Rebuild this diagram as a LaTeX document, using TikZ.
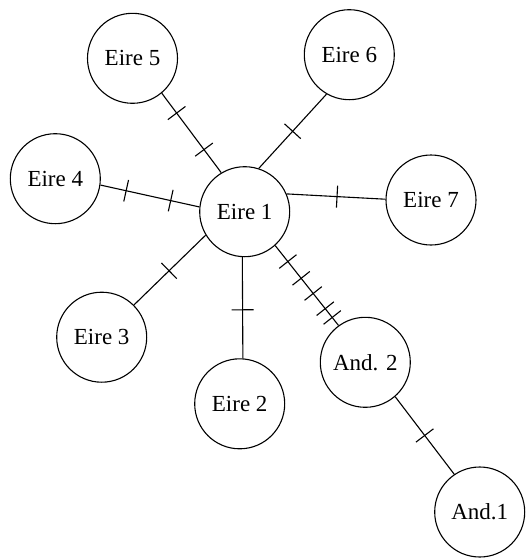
\documentclass[tikz,border=0pt]{standalone}
\usepackage{fontspec}
\setmainfont{Liberation Serif}
\begin{document}
\begin{tikzpicture}[x=1pt,y=-1pt,line width=1.1pt,
  hap/.style={draw,circle,minimum size=90pt,inner sep=0pt,font=\fontsize{23}{25}\selectfont},
  tickmark/.style={draw,sloped,rectangle,minimum width=0pt,minimum height=22pt,inner sep=0pt}]
\useasboundingbox (0,0) rectangle (527,558);
\node[hap] (e1) at (244.7,211.7) {Eire 1};
\node[hap] (e5) at (132.5,58.3) {Eire 5};
\node[hap] (e6) at (349.3,54.7) {Eire 6};
\node[hap] (e4) at (55.3,178.7) {Eire 4};
\node[hap] (e7) at (431,200) {Eire 7};
\node[hap] (e3) at (101.7,337.2) {Eire 3};
\node[hap] (e2) at (239.7,403.8) {Eire 2};
\node[hap] (a2) at (365.3,362.3) {And. 2};
\node[hap] (a1) at (479.7,512) {And.1};
\draw (e5.-50.7) -- node[tickmark,pos=0.25]{} node[tickmark,pos=0.71]{} (e1.121);
\draw (e1.72) -- node[tickmark,pos=0.5]{} (e6.240);
\draw (e4.-8.5) -- node[tickmark,pos=0.26]{} node[tickmark,pos=0.71]{} (e1.174);
\draw (e1.23.4) -- node[tickmark,pos=0.51]{} (e7.179);
\draw (e1.211.9) -- node[tickmark,pos=0.51]{} (e3.45.3);
\draw (e1.267) -- node[tickmark,pos=0.52]{} (e2.86.7);
\draw (e1.-48) -- node[tickmark,pos=0.2]{} node[tickmark,pos=0.41]{} node[tickmark,pos=0.6]{} node[tickmark,pos=0.79]{} node[tickmark,pos=0.9]{} (a2.126.2);
\draw (a2.-49.3) -- node[tickmark,pos=0.5]{} (a1.124.5);
\end{tikzpicture}
\end{document}
